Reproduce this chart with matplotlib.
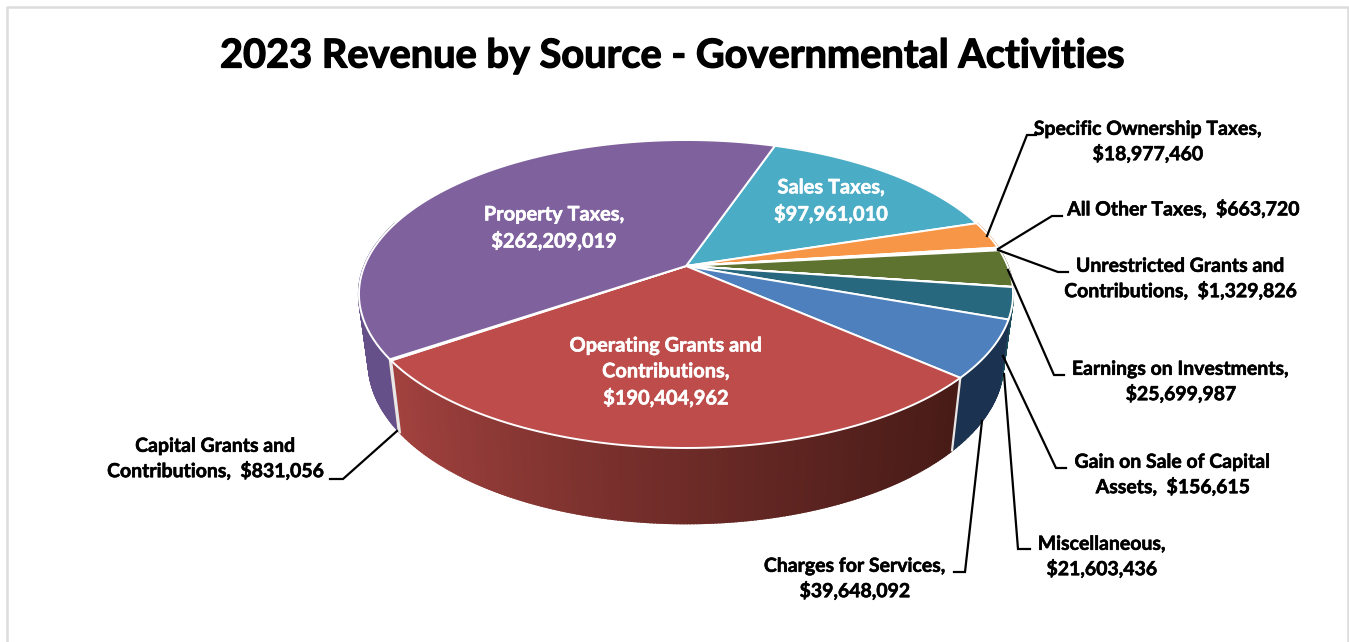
import numpy as np
import matplotlib
matplotlib.use('Agg')
import matplotlib.pyplot as plt
import matplotlib.patheffects as pe
from matplotlib.colors import to_rgb

plt.rcParams['font.family'] = ['Lato', 'DejaVu Sans']

title = '2023 Revenue by Source - Governmental Activities'

# clockwise, starting at the Sales Taxes slice
sources = ['Sales Taxes', 'Specific Ownership Taxes', 'All Other Taxes',
           'Unrestricted Grants and Contributions', 'Earnings on Investments',
           'Gain on Sale of Capital Assets', 'Miscellaneous', 'Charges for Services',
           'Operating Grants and Contributions', 'Capital Grants and Contributions',
           'Property Taxes']
values = [97961010, 18977460, 663720, 1329826, 25699987, 156615, 21603436,
          39648092, 190404962, 831056, 262209019]

top_colors = ['#4bacc6', '#f79646', '#c9c9c9', '#8a9a5b', '#5e7330', '#9bbb59',
              '#27687e', '#4d80bd', '#bd4c4a', '#a33f3d', '#7f619e']
wall_left = ['#2f7f95', '#b86a28', '#999999', '#66752f', '#46561f', '#66752f',
             '#1b4a5a', '#1b3350', '#a54340', '#a54340', '#65508a']
wall_right = ['#2f7f95', '#b86a28', '#999999', '#66752f', '#46561f', '#66752f',
              '#1b4a5a', '#1b3350', '#481b17', '#a54340', '#65508a']

start_angle = 18.9  # degrees clockwise from the back of the pie

# pie geometry, in picture pixels
cx, cy = 686, 266
persp = 0.1818
y_gain = 148.9
x_gain = 321.6
rim_x = 0.97
rim_y = 1.04
rim_drop = 68


def project(ang, r=1.0):
    x = r * np.sin(ang)
    y = r * np.cos(ang)
    d = 1 + persp * y
    return x_gain * x / d, y_gain * y / d


def top_xy(ang, r=1.0):
    sx, sy = project(ang, r)
    return cx + sx, cy - sy


def rim_xy(ang):
    sx, sy = project(ang)
    return cx + sx * rim_x, cy - sy * rim_y + rim_drop


fig = plt.figure(figsize=(13.49, 6.42), dpi=100, facecolor='white')
ax = fig.add_axes([0, 0, 1, 1])
ax.set_xlim(0, 1349)
ax.set_ylim(642, 0)
ax.axis('off')

# outer frame
ax.plot([6.5, 6.5, 1347.5, 1347.5], [642, 6.5, 6.5, 642], color='#dcdcdc', lw=1.8)

fracs = np.array(values) / sum(values) * 2 * np.pi
edges = np.radians(start_angle) + np.concatenate([[0], np.cumsum(fracs)])

# side walls, small strips so the red one can shade from left to right
strips = []
for i in range(len(values)):
    a = np.linspace(edges[i], edges[i + 1], max(2, int(np.degrees(fracs[i]) * 2) + 2))
    for j in range(len(a) - 1):
        strips.append((np.cos((a[j] + a[j + 1]) / 2), i, a[j], a[j + 1]))
strips.sort(key=lambda s: -s[0])

for depth, i, a0, a1 in strips:
    if depth > 0.3:
        continue
    tx, ty = top_xy(np.array([a0, a1]))
    bx, by = rim_xy(np.array([a1, a0]))
    t = 1.0
    if sources[i].startswith('Operating'):
        t = 1 - np.clip((tx[0] - 390) / 570, 0, 1) ** 0.8
    c = np.array(to_rgb(wall_left[i])) * t + np.array(to_rgb(wall_right[i])) * (1 - t)
    ax.fill(np.r_[tx, bx], np.r_[ty, by], facecolor=c, edgecolor=c, lw=1.5, zorder=2)

# white edges between the walls in front
for i in [7, 8, 9]:
    px, py = top_xy(edges[i + 1])
    qx, qy = rim_xy(edges[i + 1])
    ax.plot([px, qx], [py, qy], color='#e8e8e8', lw=1.6, zorder=3)

# top of the pie
for i in range(len(values)):
    a = np.linspace(edges[i], edges[i + 1], 80)
    x, y = top_xy(a)
    ax.fill(np.r_[cx, x], np.r_[cy, y], facecolor=top_colors[i], edgecolor='white',
            lw=1.4, joinstyle='round', zorder=4)

# leader lines
leaders = [([987, 1027, 1036], [236, 135, 135]),
           ([998, 1052, 1062], [249, 216, 216]),
           ([998, 1058, 1068], [250, 272, 272]),
           ([1008, 1054, 1064], [270, 375, 375]),
           ([1003, 1056, 1066], [356, 468, 468]),
           ([1004, 1018, 1030], [374, 549, 549]),
           ([982, 965, 954], [421, 572, 572]),
           ([397, 343, 330], [431, 479, 479])]
for lx, ly in leaders:
    ax.plot(lx, ly, color='black', lw=1.6, zorder=5, solid_joinstyle='miter')

ax.text(672, 56, title, fontsize=28.6, fontweight='bold', ha='center', va='center', zorder=6,
        path_effects=[pe.withStroke(linewidth=0.9, foreground='black')])

outer_labels = [('Specific Ownership Taxes,\n$18,977,460', 1148, 142),
                ('All Other Taxes,  $663,720', 1184, 209),
                ('Unrestricted Grants and\nContributions,  $1,329,826', 1181, 279),
                ('Earnings on Investments,\n$25,699,987', 1181, 382),
                ('Gain on Sale of Capital\nAssets,  $156,615', 1173, 475),
                ('Miscellaneous,\n$21,603,436', 1102, 557),
                ('Charges for Services,\n$39,648,092', 855, 579),
                ('Capital Grants and\nContributions,  $831,056', 216, 459)]
for txt, x, y in outer_labels:
    ax.text(x, y, txt, fontsize=14.0, fontweight='bold', ha='center', va='center',
            linespacing=1.42, color='black', zorder=6,
            path_effects=[pe.withStroke(linewidth=0.4, foreground='black')])

inner_labels = [('Property Taxes,\n$262,209,019', 554, 228),
                ('Sales Taxes,\n$97,961,010', 831, 201),
                ('Operating Grants and\nContributions,\n$190,404,962', 666, 372)]
for txt, x, y in inner_labels:
    ax.text(x, y, txt, fontsize=14.4, fontweight='bold', ha='center', va='center',
            linespacing=1.36, color='white', zorder=6,
            path_effects=[pe.withStroke(linewidth=0.4, foreground='white')])

fig.savefig('out.png', dpi=100)
